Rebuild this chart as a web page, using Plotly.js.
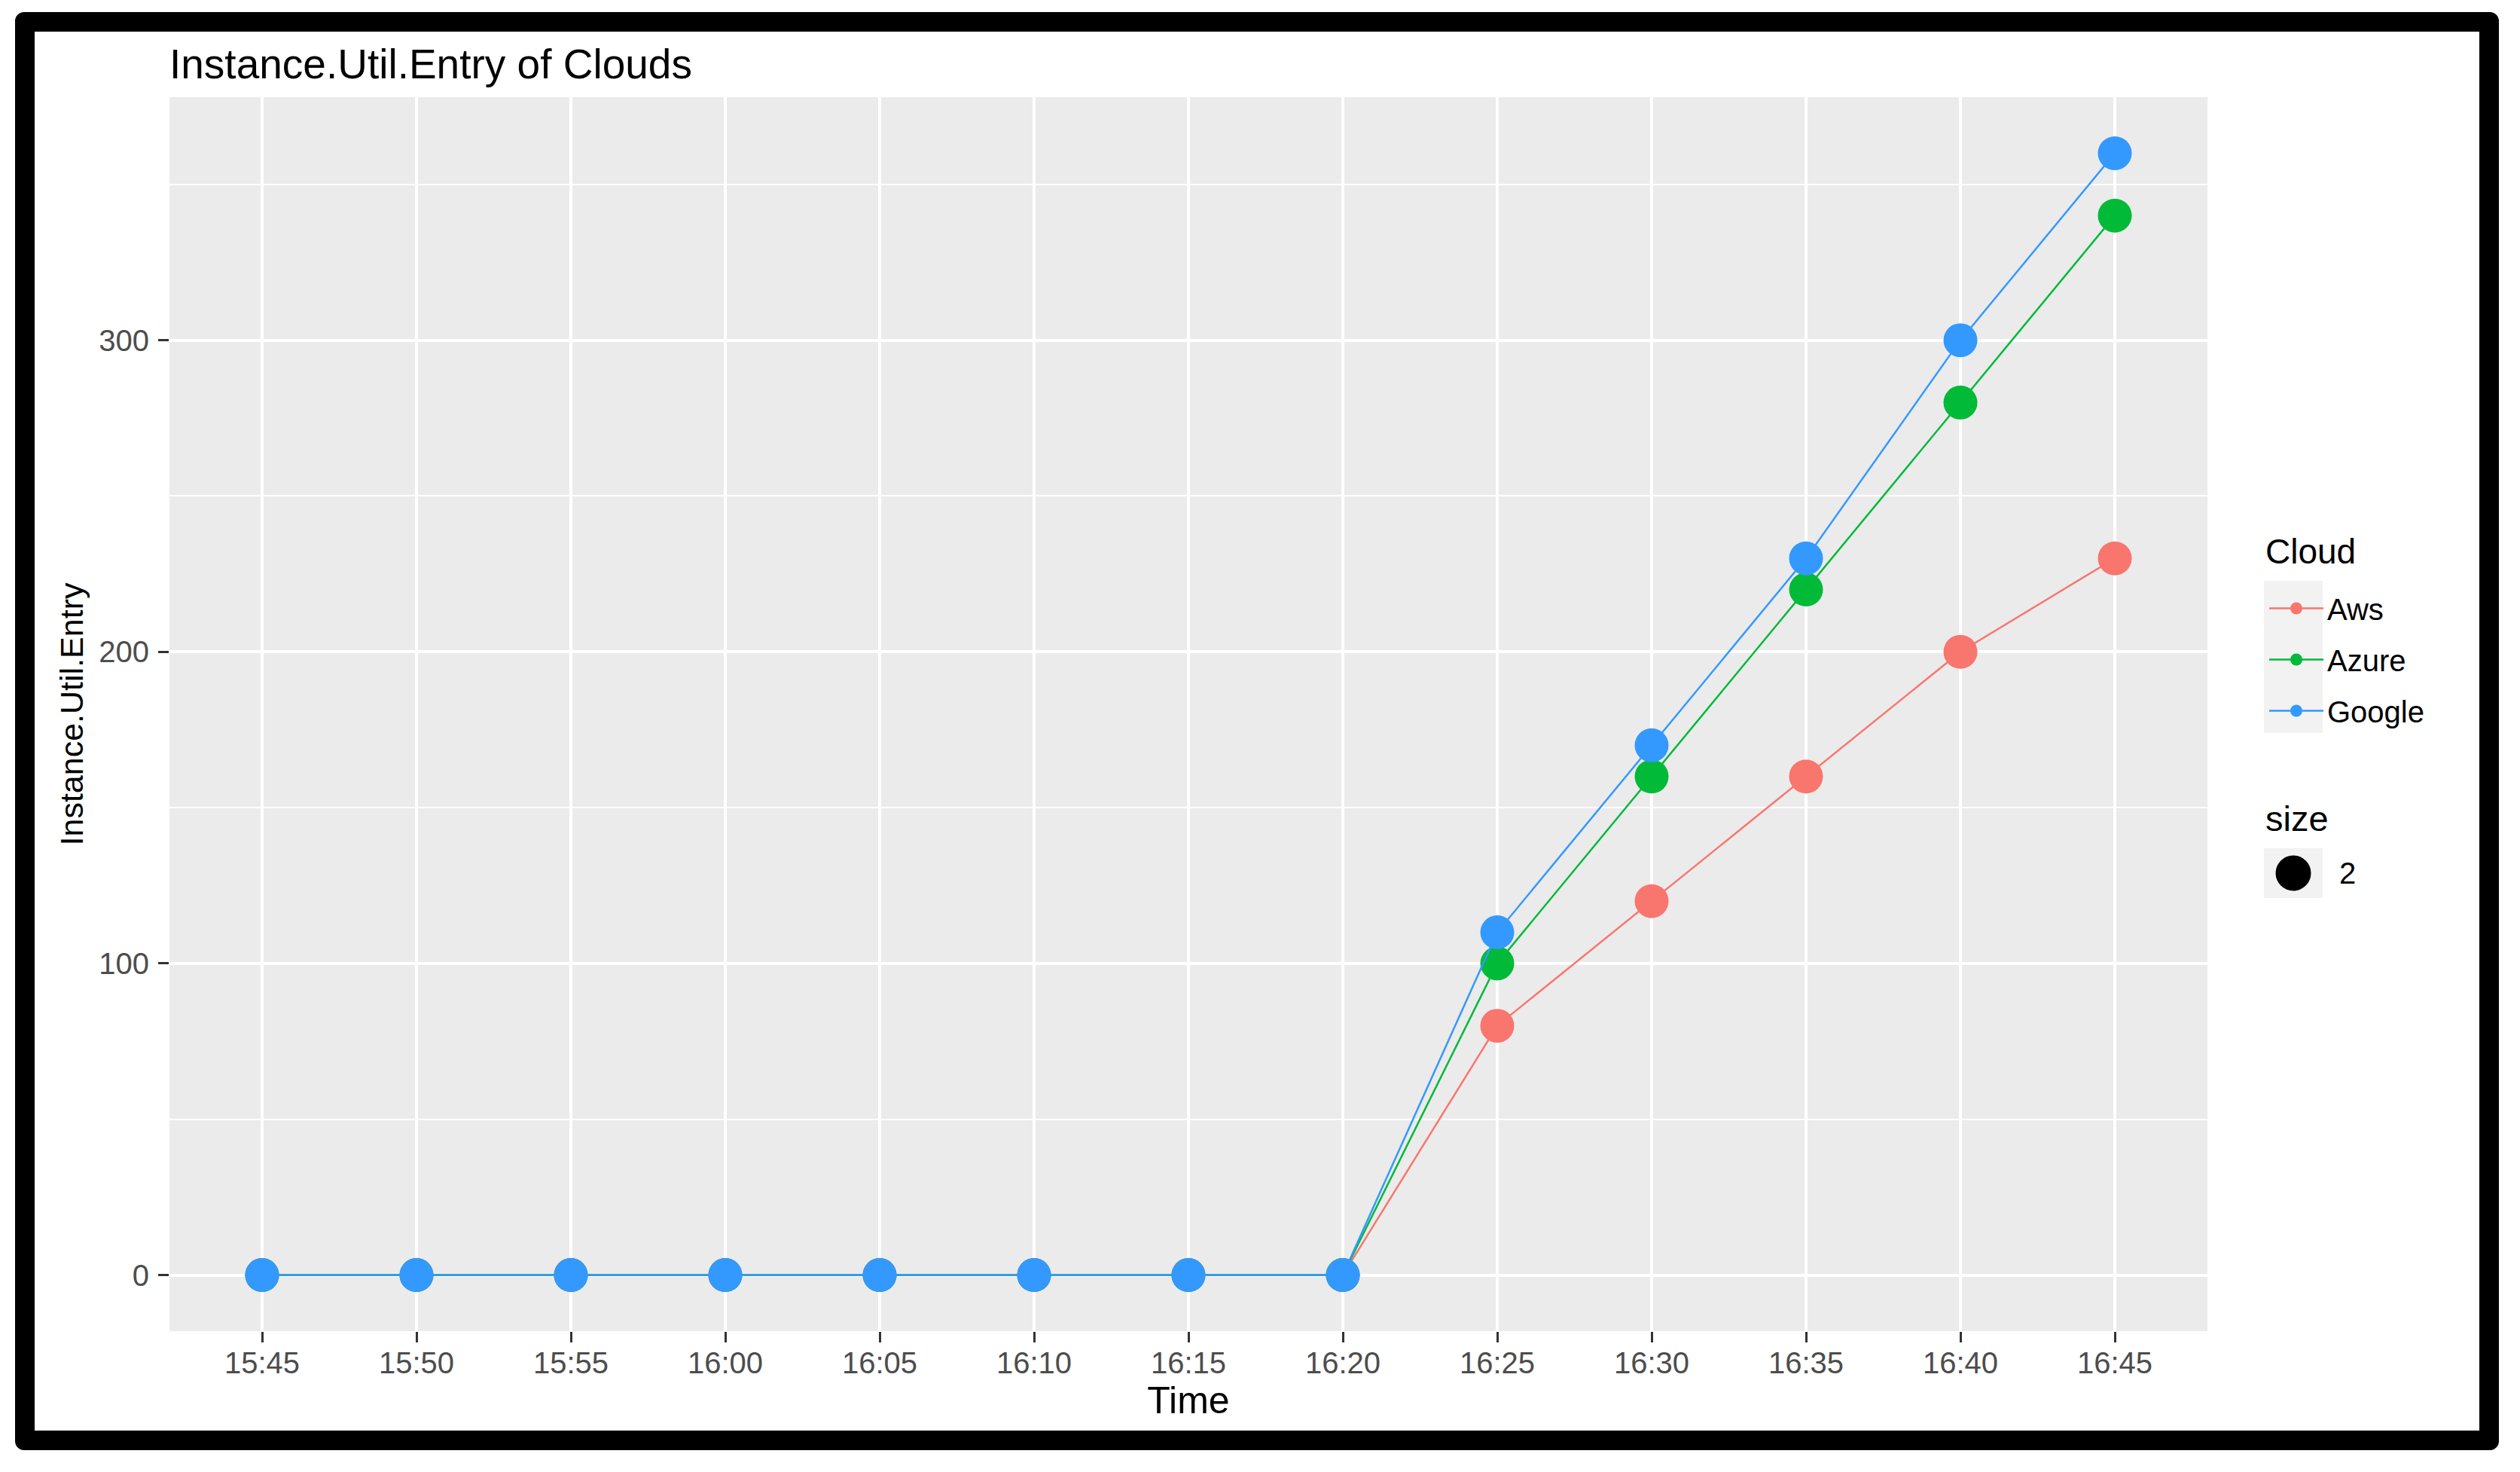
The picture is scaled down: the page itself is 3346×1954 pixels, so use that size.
<!DOCTYPE html>
<html>
<head>
<meta charset="utf-8">
<script src="https://cdn.plot.ly/plotly-3.0.1.min.js"></script>
<style>
  html, body { margin: 0; padding: 0; background: #ffffff; }
  #wrap { position: relative; width: 3346px; height: 1954px; }
  #chart { position: absolute; left: 0; top: 0; width: 3346px; height: 1954px; }
  #frame { position: absolute; left: 20px; top: 16px; width: 3298px; height: 1909px;
           box-sizing: border-box; border: 26px solid #000; border-radius: 12px; pointer-events: none; }
</style>
</head>
<body>
<div id="wrap">
  <div id="chart"></div>
  <div id="frame"></div>
</div>
<script>
// ---- data ----
const times = ["15:45","15:50","15:55","16:00","16:05","16:10","16:15","16:20","16:25","16:30","16:35","16:40","16:45"];
const cloudNames = ["Aws","Azure","Google"];
const aws    = [0,0,0,0,0,0,0,0, 80,120,160,200,230];
const azure  = [0,0,0,0,0,0,0,0,100,160,220,280,340];
const google = [0,0,0,0,0,0,0,0,110,170,230,300,360];
const yTicks = [0,100,200,300];
const legendTitle = "Cloud";
const sizeTitle = "size";
const sizeLabel = "2";

const colors = { Aws: "#F8766D", Azure: "#00BA38", Google: "#3399FF" };
const series = { Aws: aws, Azure: azure, Google: google };

const FONT = "Liberation Sans, Arial, sans-serif";

const traces = cloudNames.map(name => ({
  type: "scatter",
  mode: "lines+markers",
  x: times,
  y: series[name],
  name: name,
  legendgroup: name,
  line: { color: colors[name], width: 2.5 },
  marker: { color: colors[name], size: 45 },
  hoverinfo: "x+y+name"
}));

// paper-coordinate helpers for decorations (pixel -> paper fraction)
const L = 225, R = 2931, T = 129, B = 1767;
const px = x => (x - L) / (R - L);
const py = y => (B - y) / (B - T);

const layout = {
  width: 3346,
  height: 1954,
  margin: { l: L, r: 3346 - R, t: T, b: 1954 - B, pad: 0 },
  paper_bgcolor: "#ffffff",
  plot_bgcolor: "#EBEBEB",
  font: { family: FONT, color: "#000000" },
  title: {
    text: "Instance.Util.Entry of Clouds",
    font: { family: FONT, size: 55, color: "#000000" },
    x: 0, xref: "paper", xanchor: "left",
    y: 1 - 85 / 1954, yref: "container", yanchor: "middle"
  },
  xaxis: {
    type: "category",
    range: [-0.6, times.length - 1 + 0.6],
    showgrid: true, gridcolor: "#ffffff", gridwidth: 4,
    zeroline: false, showline: false,
    ticks: "outside", ticklen: 14, tickwidth: 3, tickcolor: "#333333",
    ticklabelstandoff: -7,
    tickfont: { family: FONT, size: 40, color: "#4D4D4D" },
    title: { text: "Time", font: { family: FONT, size: 50, color: "#000000" }, standoff: 6 },
    automargin: false,
    fixedrange: true
  },
  yaxis: {
    range: [-18, 378],
    tickmode: "array", tickvals: yTicks, ticktext: yTicks.map(String),
    showgrid: true, gridcolor: "#ffffff", gridwidth: 4,
    minor: { tickmode: "linear", tick0: 0, dtick: 50, showgrid: true, gridcolor: "#ffffff", gridwidth: 2, ticks: "" },
    zeroline: false, showline: false,
    ticks: "outside", ticklen: 14, tickwidth: 3, tickcolor: "#333333",
    ticklabelstandoff: 4,
    tickfont: { family: FONT, size: 40, color: "#4D4D4D" },
    title: { text: "Instance.Util.Entry", font: { family: FONT, size: 43, color: "#000000" }, standoff: 7 },
    automargin: false,
    fixedrange: true
  },
  legend: {
    font: { family: FONT, size: 40, color: "#000000" },
    x: px(3008), xanchor: "left",
    y: py(775), yanchor: "top",
    bgcolor: "rgba(0,0,0,0)",
    traceorder: "grouped",
    tracegroupgap: 13,
    itemwidth: 72
  },
  annotations: [
    { text: legendTitle, xref: "paper", yref: "paper", x: px(3006), y: py(732),
      xanchor: "left", yanchor: "middle", showarrow: false,
      font: { family: FONT, size: 46, color: "#000000" } },
    { text: sizeTitle, xref: "paper", yref: "paper", x: px(3006), y: py(1086),
      xanchor: "left", yanchor: "middle", showarrow: false,
      font: { family: FONT, size: 47, color: "#000000" } },
    { text: sizeLabel, xref: "paper", yref: "paper", x: px(3104), y: py(1159),
      xanchor: "left", yanchor: "middle", showarrow: false,
      font: { family: FONT, size: 40, color: "#000000" } }
  ],
  shapes: [
    { type: "rect", xref: "paper", yref: "paper", layer: "below",
      x0: px(3006), x1: px(3084), y0: py(973), y1: py(771),
      fillcolor: "#F2F2F2", line: { width: 0 } },
    { type: "rect", xref: "paper", yref: "paper", layer: "below",
      x0: px(3006), x1: px(3084), y0: py(1192), y1: py(1126),
      fillcolor: "#F2F2F2", line: { width: 0 } },
    { type: "circle", xref: "paper", yref: "paper", layer: "below",
      x0: px(3021.5), x1: px(3068.5), y0: py(1182.5), y1: py(1135.5),
      fillcolor: "#000000", line: { width: 0 } }
  ],
  showlegend: true
};

Plotly.newPlot("chart", traces, layout, { displayModeBar: false, staticPlot: true });
</script>
</body>
</html>
